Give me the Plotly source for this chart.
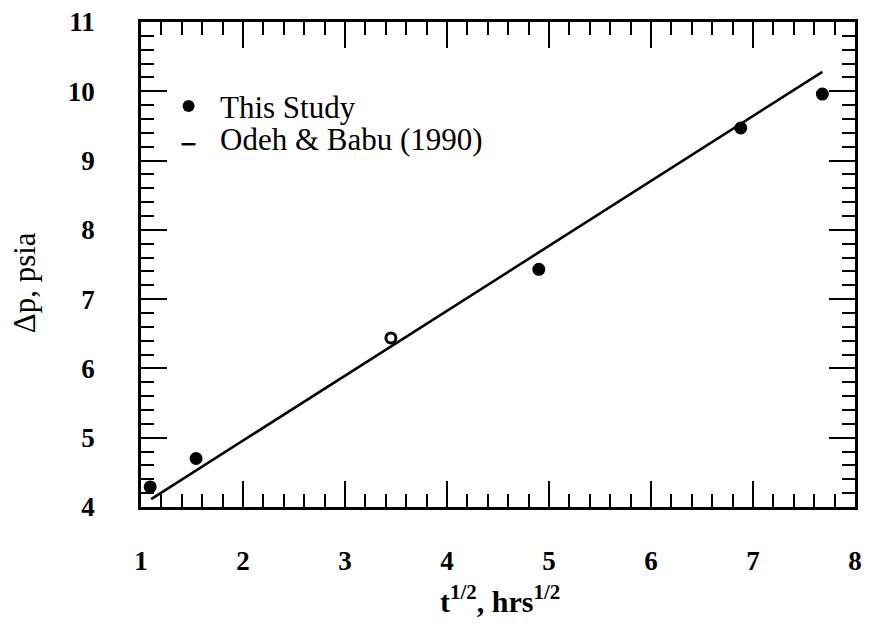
import plotly.graph_objects as go

# Data
x_study = [1.09, 1.54, 3.45, 4.90, 6.88, 7.68]
dp_study = [4.29, 4.70, 6.44, 7.43, 9.47, 9.96]
x_odeh = [1.10, 7.68]
dp_odeh = [4.115, 10.28]

x_ticks = [1, 2, 3, 4, 5, 6, 7, 8]
y_ticks = [4, 5, 6, 7, 8, 9, 10, 11]

legend_labels = ["This Study", "Odeh & Babu (1990)"]

SERIF = "Liberation Serif"
symbols = ["circle", "circle", "circle-open", "circle", "circle", "circle"]

fig = go.Figure()
fig.add_trace(go.Scatter(
    x=x_odeh, y=dp_odeh, mode="lines",
    line=dict(color="black", width=2.6), showlegend=False, hoverinfo="skip"))
fig.add_trace(go.Scatter(
    x=x_study, y=dp_study, mode="markers",
    marker=dict(color="black", size=10, symbol=symbols,
                line=dict(color="black", width=3)),
    showlegend=False, hoverinfo="skip"))

axis_common = dict(
    showgrid=False, zeroline=False, showline=True, linecolor="black",
    linewidth=2.5, mirror="allticks", ticks="inside", ticklen=26,
    tickwidth=2, tickcolor="black",
    tickfont=dict(family=SERIF, size=27, color="black", weight="bold"),
    minor=dict(dtick=0.2, ticks="inside", ticklen=13, tickwidth=2,
               tickcolor="black", showgrid=False),
)

fig.update_xaxes(range=[1, 8], tickvals=x_ticks,
                 ticktext=[str(v) for v in x_ticks],
                 ticklabelstandoff=28, **axis_common)
fig.update_yaxes(range=[4, 11], tickvals=y_ticks,
                 ticktext=[str(v) for v in y_ticks],
                 ticklabelstandoff=38, **axis_common)

# Legend drawn as shapes + text (matches the short dash of the reference)
fig.add_shape(type="circle", xref="paper", yref="paper",
              xsizemode="pixel", ysizemode="pixel",
              xanchor=0.0666, yanchor=0.827, x0=-6, x1=6, y0=-6, y1=6,
              fillcolor="black", line=dict(color="black", width=0))
fig.add_shape(type="line", xref="paper", yref="paper",
              xsizemode="pixel", ysizemode="pixel",
              xanchor=0.0666, yanchor=0.748, x0=-7, x1=7, y0=0, y1=0,
              line=dict(color="black", width=2.5))
fig.add_annotation(text=legend_labels[0], xref="paper", yref="paper",
                   x=0.108, y=0.823, xanchor="left", yanchor="middle",
                   showarrow=False,
                   font=dict(family=SERIF, size=31, color="black"))
fig.add_annotation(text=legend_labels[1], xref="paper", yref="paper",
                   x=0.108, y=0.757, xanchor="left", yanchor="middle",
                   showarrow=False,
                   font=dict(family=SERIF, size=31, color="black"))

# Axis titles
fig.add_annotation(text="t<sup>1/2</sup>, hrs<sup>1/2</sup>",
                   xref="paper", yref="paper", x=0.503, y=-0.19,
                   xanchor="center", yanchor="middle", showarrow=False,
                   font=dict(family=SERIF, size=30, color="black", weight="bold"))
fig.add_annotation(text="Δp, psia", xref="paper", yref="paper",
                   x=-0.162, y=0.462, xanchor="center", yanchor="middle",
                   textangle=-90, showarrow=False,
                   font=dict(family=SERIF, size=31, color="black"))

fig.update_layout(
    width=869, height=624,
    margin=dict(l=141, r=7, t=22, b=117),
    paper_bgcolor="white", plot_bgcolor="white",
    showlegend=False,
)

fig.write_html("out.html")
